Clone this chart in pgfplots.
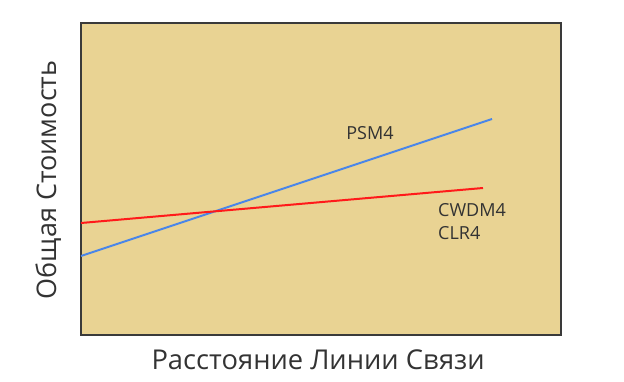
\documentclass[border=0pt]{standalone}
\usepackage{pgfplots}
\pgfplotsset{compat=1.18}
\usepackage{fontspec}
\setmainfont{Open Sans}
\definecolor{bgtan}{HTML}{E9D393}
\definecolor{axisgray}{HTML}{3A3A3A}
\definecolor{txtgray}{HTML}{333333}
\definecolor{lineblue}{HTML}{4A86E8}
\definecolor{linered}{HTML}{FF1A1A}
\begin{document}
\begin{tikzpicture}
\path[use as bounding box] (0pt,0pt) rectangle (624pt,381pt);
\begin{axis}[
  at={(81pt,46pt)}, anchor=south west,
  scale only axis, width=480pt, height=312pt,
  xmin=0, xmax=480, ymin=0, ymax=312,
  xtick=\empty, ytick=\empty,
  axis background/.style={fill=bgtan},
  axis line style={draw=axisgray, line width=1.6pt},
  clip=false,
]
\addplot[color=lineblue, line width=2pt] coordinates {(0,79) (411,216)};
\addplot[color=linered, line width=2pt] coordinates {(0,112) (402,147)};
\node[text=txtgray, font=\fontsize{18}{21}\selectfont] at (axis cs:289,202) {PSM4};
\node[text=txtgray, font=\fontsize{18}{21}\selectfont, anchor=west, inner sep=0pt] at (axis cs:357,125) {CWDM4};
\node[text=txtgray, font=\fontsize{18}{21}\selectfont, anchor=west, inner sep=0pt] at (axis cs:357,102) {CLR4};
\node[text=txtgray, font=\fontsize{27.3}{30}\selectfont] at (axis description cs:0.494,-0.08) {Расстояние Линии Связи};
\node[text=txtgray, font=\fontsize{27}{30}\selectfont, rotate=90] at (axis description cs:-0.068,0.497) {Общая Стоимость};
\end{axis}
\end{tikzpicture}
\end{document}
